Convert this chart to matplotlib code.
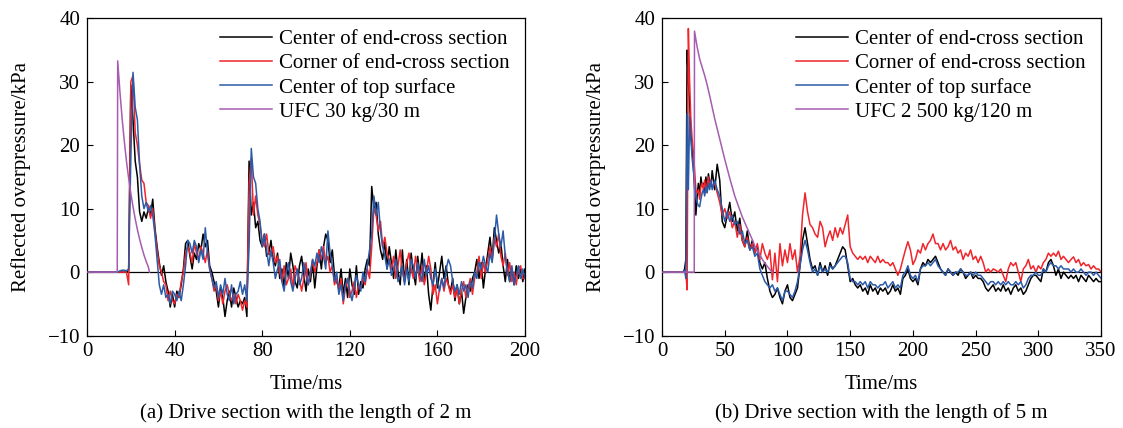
import numpy as np
import matplotlib
matplotlib.use("Agg")
import matplotlib.pyplot as plt

plt.rcParams['font.family'] = ['Liberation Serif', 'DejaVu Serif']

# ---------------- (a) 2 m drive section, 1 ms samples ----------------
t_a = np.arange(0, 201)

center_end_a = [
    0, 0, 0, 0, 0, 0, 0, 0, 0, 0,
    0, 0, 0, 0, 0, 0, 0, 0, 0, 0.2,
    29.5, 24, 17.5, 15, 9.5, 8, 9.5, 8.5, 10, 9,
    11.5, 7, 4, 1.5, -0.5, 1, -1.5, -3, -5.5, -3.5,
    -5.5, -3, -4, -2, 0.5, 4.5, 5, 2.5, 0.5, 3,
    2, 4.5, 3.5, 6, 4, 5, 1, 0, -1.5, -3,
    -5.5, -2.5, -4, -7, -4.5, -3, -5.5, -2.5, -4, -5.5,
    -4.5, -5, -4, -7, 17.5, 9, 11, 7, 8, 5,
    4, 6, 2.5, 3, 5, 2, 1, 3, -1, 0.5,
    -2.5, 1.5, -1, 3, 1, -1.5, -2.5, 1, 2.5, -0.5,
    -3, 0.5, -1.5, 1.5, -2.5, 1, 3.5, 0.5, 4, 6,
    5, 1.5, 3.5, -0.5, -1.5, -2.5, 0.5, -3.5, -1, -4,
    0.5, -2, -3.5, 1, -3.5, -1.5, -2.5, 0.5, 2, 1,
    13.5, 10, 11, 6, 3.5, 2, 5, 0.5, 4, 1.5,
    -1, 3.5, 0, -2, 3.5, -1.5, 2, -2, 3, 0,
    -2, 2.5, -0.5, 3, -1.5, 1, -3.5, -6, -2, 1.5,
    -2.5, 0, 2.5, -1, 1, -2, -3, -1, -4.5, -2,
    -5, -3, -6.5, -4, -2, -3, -1, 0, 2, -1,
    1.5, -2.5, 0.5, 3, 5.5, 2, 7, 5, 3, 4.5,
    1, -1.5, 2, -1.5, 0.5, -2, 1, -1, 0.5, -1.5,
    0.5,
]

corner_end_a = [
    0, 0, 0, 0, 0, 0, 0, 0, 0, 0,
    0, 0, 0, 0, 0, 0, 0, 0, 0, -2,
    30, 31, 22, 20, 17, 14.5, 14, 11, 10.5, 8.5,
    10, 6.5, 3.5, 1, 0, -1.5, -2, -4.5, -3, -4.5,
    -5, -3.5, -4, -1.5, 0, 3, 4, 3, 1.5, 4.5,
    3, 2, 4, 3, 1.5, 3.5, 0.5, -1, -3, -2,
    -4.5, -3, -5, -3, -2, -3.5, -4.5, -3.5, -5, -3.5,
    -4.5, -6, -4.5, -5.5, 14, 18, 9, 12, 9, 7.5,
    5, 4, 6, 3, 2.5, 4, 1.5, 2.5, 0, -1.5,
    1, -2, -1, 0.5, -2.5, 1, 0, -1, -3, -1,
    1.5, -2, -0.5, 2, 0, 1.5, 3.5, 2, 4, 1.5,
    2.5, 0, 1, -2, -1, -3, -1, -5, -2.5, -1,
    -4, -3, -1.5, -4, -2, -2.5, -1, -2, 0.5, -1,
    4, 10, 9, 6.5, 8, 4, 5.5, 3, 2, 0.5,
    2.5, -1, 1, 3.5, 0, -1.5, 1.5, 3, 0.5, -1,
    2.5, 0.5, -1.5, 1, -2, 0, 2.5, 0.5, -3.5, -2,
    -5, -2.5, -1, -3, -1, -2, -3.5, -2, -4, -2.5,
    -5, -3, -1.5, -4, -2.5, -1, -3.5, -1, 0, 2.5,
    -1, 1.5, 0, 2, 4, 2, 5.5, 4, 6, 2.5,
    1, 3, -0.5, 1.5, -1.5, 0, -2, 0.5, 1, -1,
    -1,
]

center_top_a = [
    0, 0, 0, 0, 0, 0, 0, 0, 0, 0,
    0, 0, 0, 0, 0, 0.2, 0.3, 0.3, 0.2, 0.5,
    18, 31.5, 26, 24, 17, 12, 10, 11, 9.5, 10.5,
    9, 6, 2, -2, -3.5, -2, -4, -3.5, -5, -3,
    -3.5, -4.5, -3, -4.5, -2, 1, 5, 4.5, 3, 5,
    4, 1.5, 3.5, 2, 7, 3, 0.5, -1, -2.5, -1.5,
    -4, -2, -3.5, -1, -3.5, -4.5, -2, -5, -3.5, -3,
    -1.5, -3.5, -2, -4.5, 4, 19.5, 15, 14, 10, 8,
    4, 6, 3.5, 1, 3.5, 1.5, -1, 0.5, 2, -1.5,
    -3, 0, 1.5, -1.5, -3, -1, 0.5, -2, -1, 1.5,
    -0.5, -2, 0, 2, 1, 3, 1.5, 4, 2.5, 0.5,
    6.5, 3, 1, -1.5, 0, -3.5, -2, -4.5, -2, -1,
    -3, -4.5, -2.5, -0.5, -2, -3, 0, -1.5, 1, 3.5,
    6, 12, 9, 11, 6.5, 4, 2.5, 0.5, 2, -0.5,
    0.5, 2, -1.5, -0.5, 1, -2, 0.5, -1.5, 2, 1,
    -1, 1.5, 0, -1.5, 2, -0.5, 1, -1, -2, 0.5,
    -1.5, -3, -1, -2.5, 0.5, 2, 1, -1.5, -3, -2,
    -3.5, -1.5, -3, -2, -4, -1.5, -2.5, 0, -1, 1.5,
    0.5, 2.5, 1, 0, 3, 1.5, 5, 9, 6, 4,
    6.5, 2.5, 0, -1.5, 1, -2, -0.5, 1, -1, 0.5,
    -1,
]

ufc_t_a = [0, 13.8, 14.0, 15, 16, 17, 18, 19, 20, 21, 22, 23, 24, 25, 26, 27, 28, 28.5]
ufc_p_a = [0, 0, 33.3, 28.5, 24.3, 20.7, 17.5, 14.8, 12.4, 10.3, 8.4, 6.7, 5.2, 3.9, 2.7, 1.7, 0.8, 0]

# ---------------- (b) 5 m drive section, 1 ms then 2 ms samples ----------------
t_b = np.concatenate([np.arange(0, 40), np.arange(40, 351, 2)])

center_end_b = [
    0, 0, 0, 0, 0, 0, 0, 0, 0, 0,
    0, 0, 0, 0, 0, 0, 0, 0, 0.5, 2,
    35, 30, 27, 22, 19, 17, 13, 9, 12, 14,
    12, 15, 13.5, 14, 12.5, 15, 13, 15.5, 14, 13.5,
    16, 13, 17, 14.5, 8, 7, 9, 11, 8, 9.5,
    6.5, 8.5, 5, 4, 6.5, 3.5, 5, 3, 4, 1.5,
    0.5, 1.5, -1, -3, -4, -3.5, -2.5, -4, -5, -3,
    -2, -4, -4.5, -3.5, -2.5, 1, 5, 7, 4.5, 2,
    0.5, 1, -0.5, 1.5, 0, 1, -0.5, 1.5, 0.5, 1,
    2, 3, 4, 3.5, 1, -1.5, -1, -2, -2.5, -2,
    -3, -2.5, -3.5, -2, -3, -2.5, -3.5, -2.5, -3, -2.5,
    -3.5, -3, -2, -3, -2.5, -3.5, -1, -0.5, 0.5, -1,
    -1.5, -1, -2, 0.5, 1.5, 1, 2, 1.5, 2, 2.5,
    1.5, 0.5, 0, -0.5, 0.5, 0, -0.5, 0, -0.5, 0.5,
    0, -1, -0.5, 0, -1, -0.5, -1, -1, -1.5, -2.5,
    -3, -2.5, -2, -3, -2.5, -3, -2, -3, -2.5, -3.5,
    -2.5, -2, -3, -2.5, -3.5, -3, -2, -1, -0.5, -0.5,
    -1, -1.5, 0.5, 0, 1.5, 2, 1, -0.5, 0.5, -1,
    0, -0.5, -1, -0.5, -1, -0.5, -1.5, -0.5, -1, -1.5,
    -0.5, -1, -1.5, -1, -1.5, -1.5,
]

corner_end_b = [
    0, 0, 0, 0, 0, 0, 0, 0, 0, 0,
    0, 0, 0, 0, 0, 0, 0, 0, 0, 0,
    -2.8, 38.4, 30, 24, 21, 19, 16, 13, 12.5, 13,
    11.5, 13.5, 14, 13, 14.5, 12.5, 14, 15, 13.5, 14.5,
    13.5, 14, 12.5, 11, 9, 10, 8.5, 9.5, 7, 8,
    5.5, 7.5, 5, 4, 5.5, 3.5, 4.5, 3, 4.5, 2,
    4.5, 3, 2, 3.5, -1.2, 3, -1.5, 4.5, 1, 3.5,
    1.5, 4.5, 2, 3.5, 0, 2.5, 9, 12.5, 9.5, 7.5,
    7, 6, 5.5, 8, 7, 4, 5.5, 6.5, 5, 7,
    5.5, 7, 6, 7.5, 9, 4, 3, 2.5, 2, 2.5,
    2, 2.5, 1.5, 2.5, 2, 1.5, 2.5, 1.5, 2, 1.5,
    1.5, 1, 1.5, 0.5, -0.5, 0.5, 2, 3.5, 4.8, 3.5,
    1.2, 2, 3.5, 3, 4.5, 3.5, 4.5, 5, 6, 4.5,
    4.5, 3.5, 4.5, 3.5, 4, 5, 3.5, 4, 3, 3.5,
    2, 3, 2.5, 3.5, 2, 2.5, 1.5, 2.5, 1.5, 0,
    0.5, 0, 0.5, 0.3, 0, 0.5, -0.5, -1.5, 0.5, 1.5,
    1, 1.5, 0, -1.5, 0.5, 1, 2, 0.5, 1, 0,
    1, 0.5, 1.5, 2, 3, 2.5, 3, 2.5, 3.3, 2,
    2.5, 2, 1.5, 2, 2.4, 1.5, 2, 1, 1.5, 1,
    1.2, 0.5, 1, 0.5, 0.5, 0,
]

center_top_b = [
    0, 0, 0, 0, 0, 0, 0, 0, 0, 0,
    0, 0, 0, 0, 0, 0, 0, 0, 0.3, -1,
    25, 13, 24.5, 21, 18, 16, 14, 12, 11, 10.5,
    10.3, 11.5, 12.5, 13, 12, 13.5, 12.5, 14, 13, 14.5,
    13, 14.5, 13, 12, 10, 8, 9.5, 8, 9, 7.5,
    8, 6, 6.5, 4.5, 5, 3.5, 4, 2.5, 3, 0.5,
    -0.5, -1.5, -2, -2.5, -2, -3, -2.5, -3.5, -4.5, -3,
    -3, -3.5, -4, -3, -1.5, 1, 3.5, 5, 3.5, 1.5,
    0, 0.5, -0.5, 1, 0, 0.5, 0, 1, 0.5, 1,
    1.5, 2, 2.5, 2.5, 1.5, -1, -1.5, -1.5, -2, -1.5,
    -2, -1.5, -2.5, -1.5, -2, -2, -2.5, -2, -2, -1.5,
    -2.5, -2, -1.5, -2.5, -2, -2.5, -0.5, 0, 1, -0.5,
    -1, -0.5, -1.5, 0.5, 1, 1, 1.5, 1, 1.5, 2,
    1, 0.5, 0, -0.5, 0.5, 0, -0.5, 0, 0, 0.5,
    0, -0.5, -0.5, 0, -0.5, 0, -0.5, -0.5, -1, -1.5,
    -2, -1.5, -1.5, -2, -1.5, -2, -1.5, -2, -1.5, -2,
    -2, -1.5, -2, -1.5, -2.5, -2, -1, -0.5, -0.5, 0,
    -0.5, -0.5, 0.5, 0, 1, 1.5, 1, 1, 0.5, 1,
    0.5, 0.5, 0.5, 0, 0.5, 0, 0, 0.5, 0, -0.5,
    0, 0, -0.5, 0, -0.5, -1,
]

ufc_t_b = [0, 25.7, 25.9, 28, 30, 32, 34, 36, 38, 40, 42, 44, 46, 48, 50, 52, 54, 56,
           58, 60, 62, 64, 66, 68, 70, 72, 74, 76, 78, 80, 82, 84, 86, 88]
ufc_p_b = [0, 0, 38, 35.5, 33.6, 32.3, 31, 29.5, 27.8, 26, 24.2, 22.6, 21, 19.4, 17.8, 16.3, 14.8, 13.4,
           12, 10.9, 9.8, 8.7, 7.8, 6.9, 6, 5.1, 4.1, 3.4, 2.7, 2, 1.4, 0.9, 0.4, 0]

labels = ['Center of end-cross section', 'Corner of end-cross section',
          'Center of top surface']
colors = ['#000000', '#f0242b', '#2b5aa8', '#a65cb0']

panels = [
    (t_a, [center_end_a, corner_end_a, center_top_a], ufc_t_a, ufc_p_a,
     'UFC 30 kg/30 m', 200, 40, '(a) Drive section with the length of 2 m',
     [0.0775, 0.216, 0.390, 0.741]),
    (t_b, [center_end_b, corner_end_b, center_top_b], ufc_t_b, ufc_p_b,
     'UFC 2 500 kg/120 m', 350, 50, '(b) Drive section with the length of 5 m',
     [0.5895, 0.216, 0.391, 0.741]),
]

fig = plt.figure(figsize=(11.23, 4.28), dpi=100)
fs = 15

for t, series, ut, up, ulabel, xmax, xstep, caption, rect in panels:
    ax = fig.add_axes(rect)
    ax.axhline(0, color='black', lw=0.9, zorder=1)
    for vals, lab, c in zip(series, labels, colors):
        ax.plot(t, vals, color=c, lw=1.1, label=lab, zorder=2)
    ax.plot(ut, up, color=colors[3], lw=1.1, label=ulabel, zorder=3)

    ax.set_xlim(0, xmax)
    ax.set_ylim(-10, 40)
    ax.set_xticks(np.arange(0, xmax + 1, xstep))
    ax.set_yticks(np.arange(-10, 41, 10))
    ax.tick_params(direction='in', length=4, width=0.8, labelsize=fs, pad=5)
    for sp in ax.spines.values():
        sp.set_linewidth(0.9)
    ax.set_xlabel('Time/ms', fontsize=fs, labelpad=10)
    ax.set_ylabel('Reflected overpressure/kPa', fontsize=fs, labelpad=12)
    ax.legend(loc='upper right', frameon=False, fontsize=fs, handlelength=2.5,
              handletextpad=0.3, labelspacing=0.21, borderaxespad=0.15,
              bbox_to_anchor=(0.99, 1.0))
    ax.text(0.5, -0.243, caption, transform=ax.transAxes, ha='center',
            va='center', fontsize=fs)

fig.savefig('out.png', dpi=100)
